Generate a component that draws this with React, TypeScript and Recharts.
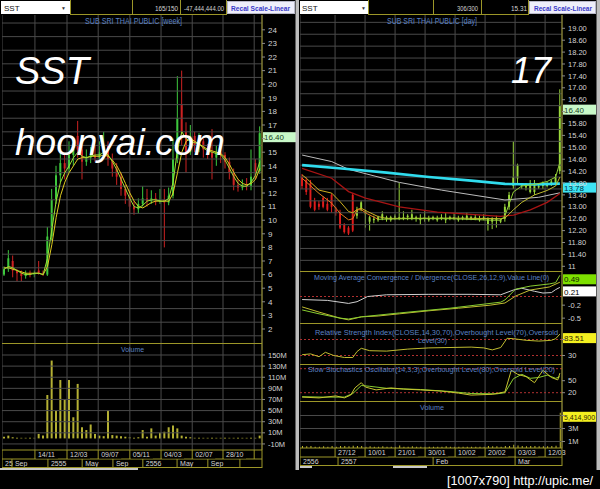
import React from "react";
import {
  ComposedChart,
  Bar,
  Line,
  XAxis,
  YAxis,
  ReferenceLine,
} from "recharts";

const FONT = '"Liberation Sans", Arial, sans-serif';
const OLIVE = "#9c9628";
const GRID = "#4a4a4a";
const TITLE_BLUE = "#5b82c4";
const AXIS_TEXT = "#d4d4d4";
const M0 = { top: 0, right: 0, bottom: 0, left: 0 };

// ---------- weekly (left) ----------
const wkOpen = [6.0, 6.4, 7.0, 6.3, 6.1, 5.9, 6.1, 6.0, 6.3, 6.1, 6.0, 8.8, 11.5, 13.3, 14.2, 13.8, 14.8, 16.2, 15.2, 14.3, 14.6, 14.8, 14.6, 15.0, 15.5, 14.5, 13.8, 13.2, 12.3, 11.8, 11.0, 10.8, 11.2, 11.6, 11.4, 11.6, 11.4, 11.5, 11.3, 11.8, 14.5, 18.5, 16.5, 15.0, 16.2, 15.5, 15.8, 15.2, 15.0, 14.6, 15.0, 14.8, 14.3, 13.5, 12.6, 12.4, 12.6, 12.5, 14.2, 13.6];
const wkClose = [6.4, 7.2, 6.3, 6.1, 5.9, 6.1, 6.0, 6.1, 6.1, 6.0, 8.8, 11.5, 13.3, 14.2, 13.8, 14.8, 15.2, 15.2, 14.3, 14.6, 14.8, 14.6, 15.0, 15.5, 14.5, 13.8, 13.2, 12.3, 11.8, 11.0, 10.8, 11.2, 11.6, 11.4, 11.6, 11.4, 11.5, 11.3, 11.8, 14.5, 17.5, 16.5, 15.0, 16.2, 15.5, 15.8, 15.2, 15.0, 14.6, 15.0, 14.8, 14.3, 13.5, 12.6, 12.4, 12.6, 12.5, 13.2, 13.6, 16.4];
const wkHigh = [6.6, 7.8, 7.4, 6.4, 6.3, 6.3, 6.3, 6.3, 7.0, 6.3, 9.5, 12.3, 14.0, 15.3, 14.8, 15.8, 16.0, 17.3, 15.6, 15.2, 15.4, 15.5, 15.8, 16.5, 15.8, 14.9, 14.2, 13.5, 12.6, 12.2, 11.4, 11.6, 12.5, 12.3, 12.2, 12.0, 12.3, 12.3, 12.4, 16.0, 20.6, 21.0, 17.2, 17.0, 16.5, 16.4, 16.0, 15.6, 16.7, 15.5, 15.4, 15.0, 14.6, 13.8, 13.0, 13.0, 13.1, 15.2, 14.5, 16.9];
const wkLow = [5.9, 6.2, 5.8, 5.5, 5.5, 5.7, 5.8, 5.8, 6.0, 5.9, 5.9, 8.5, 11.2, 12.8, 13.0, 13.5, 14.0, 14.6, 13.0, 14.0, 14.2, 14.3, 14.3, 14.5, 14.0, 13.2, 12.6, 11.8, 11.2, 10.5, 10.4, 10.5, 11.0, 11.0, 11.2, 11.1, 11.2, 8.0, 11.1, 11.6, 14.2, 15.5, 13.5, 14.8, 15.0, 15.0, 14.6, 14.5, 13.0, 14.0, 14.2, 13.8, 13.0, 12.2, 12.1, 12.2, 12.2, 12.2, 13.0, 13.4];
const wkMaSlow = [6.5, 6.5, 6.4, 6.3, 6.2, 6.1, 6.1, 6.1, 6.1, 6.0, 6.6, 8.2, 10.2, 11.8, 12.8, 13.5, 14.0, 14.5, 14.6, 14.6, 14.7, 14.7, 14.7, 14.8, 14.7, 14.4, 14.0, 13.4, 12.7, 12.0, 11.4, 11.0, 10.9, 11.1, 11.3, 11.4, 11.4, 11.4, 11.4, 12.0, 13.5, 15.0, 15.8, 16.0, 15.8, 15.6, 15.4, 15.2, 15.1, 15.0, 14.9, 14.6, 14.1, 13.5, 13.0, 12.7, 12.6, 12.7, 13.0, 13.8];
const wkMaFast = [6.4, 6.6, 6.5, 6.3, 6.1, 6.0, 6.0, 6.1, 6.1, 6.0, 7.2, 9.3, 11.4, 12.8, 13.5, 14.0, 14.6, 15.0, 14.7, 14.6, 14.7, 14.8, 14.8, 15.0, 14.8, 14.3, 13.7, 13.0, 12.3, 11.6, 11.0, 10.9, 11.1, 11.4, 11.5, 11.5, 11.4, 11.4, 11.6, 12.8, 15.2, 16.5, 16.0, 15.8, 15.7, 15.6, 15.3, 15.1, 15.0, 14.9, 14.8, 14.4, 13.8, 13.2, 12.7, 12.5, 12.5, 12.8, 13.3, 14.3];
const wkVol = [3, 5, 2, 1, 1, 1, 1, 1, 8, 5, 78, 140, 50, 105, 70, 105, 38, 98, 20, 15, 25, 8, 5, 4, 50, 6, 5, 4, 3, 2, 1, 2, 15, 3, 18, 5, 10, 12, 20, 23, 18, 5, 3, 2, 1, 1, 1, 1, 1, 1, 1, 1, 1, 1, 1, 1, 1, 1, 1, 5];

const WK_DOMAIN = [-0.5, 59.5];
const wkPriceDomain = [0.97, 25.09];
const wkPriceTicks = [2, 3, 4, 5, 6, 7, 8, 9, 10, 11, 12, 13, 14, 15, 16, 17, 18, 19, 20, 21, 22, 23, 24];
const wkGridTicks = [1.5, 2.5, 3.5, 4.5, 5.5, 6.5, 7.5, 8.5, 9.5, 10.5, 11.5, 12.5, 13.5, 14.5, 15.5, 16.5, 17.5, 18.5, 19.5, 20.5, 21.5, 22.5, 23.5, 24.5];
const wkVolDomain = [-20.9, 171.6];
const wkVolTicks = [-10, 10, 30, 50, 70, 90, 110, 130, 150];
const wkDateTicks = [-0.5, 7.1, 14.5, 21.7, 29, 36.2, 43.4, 50.5, 57.7, 59.5];
const wkDateLabels = ["", "14/11", "12/03", "09/07", "05/11", "04/03", "02/07", "28/10", "", ""];
const wkMonthTicks = [-0.5, 1.8, 10.1, 18, 25.1, 32, 39.9, 47, 54.4, 59.5];
const wkMonthLabels = ["2554", "Sep", "2555", "May", "Sep", "2556", "May", "Sep", "", ""];

// ---------- daily (right) ----------
const dyOpen = [14.0, 13.9, 13.8, 13.2, 13.1, 13.3, 13.1, 13.4, 12.9, 12.8, 12.4, 12.3, 13.4, 12.7, 12.9, 12.75, 12.5, 12.55, 12.55, 12.6, 12.6, 12.55, 12.6, 12.6, 12.6, 12.65, 12.6, 12.6, 12.55, 12.6, 12.55, 12.6, 12.55, 12.6, 12.55, 12.6, 12.6, 12.55, 12.6, 12.6, 12.6, 12.6, 12.55, 12.6, 12.4, 12.5, 12.55, 12.5, 12.6, 13.0, 13.7, 13.95, 13.7, 13.65, 13.5, 13.5, 13.65, 13.7, 13.7, 13.75, 13.8, 14.2];
const dyClose = [13.7, 13.5, 13.0, 12.9, 13.0, 13.0, 12.9, 13.0, 12.8, 12.3, 12.15, 12.1, 12.2, 12.9, 13.15, 12.85, 12.65, 12.6, 12.65, 12.75, 12.65, 12.65, 12.7, 12.65, 12.65, 12.7, 12.75, 12.65, 12.6, 12.65, 12.6, 12.65, 12.6, 12.65, 12.6, 12.65, 12.65, 12.6, 12.65, 12.7, 12.65, 12.65, 12.6, 12.65, 12.6, 12.6, 12.6, 12.55, 13.0, 13.4, 14.0, 14.4, 13.75, 13.7, 13.8, 13.8, 13.7, 13.8, 13.75, 13.85, 14.0, 16.4];
const dyHigh = [14.1, 14.0, 13.9, 13.3, 13.2, 13.35, 13.3, 13.45, 13.0, 12.9, 12.45, 12.35, 13.45, 13.0, 13.2, 12.9, 12.7, 12.7, 12.7, 12.85, 12.7, 12.7, 12.75, 13.8, 12.85, 12.75, 12.9, 12.7, 12.75, 12.85, 12.7, 12.7, 12.7, 12.75, 12.8, 12.7, 12.8, 12.7, 12.7, 12.8, 12.7, 12.75, 12.7, 12.75, 12.65, 12.65, 12.7, 12.6, 13.1, 13.5, 15.2, 14.45, 13.8, 13.8, 13.9, 13.9, 13.8, 13.85, 13.85, 13.9, 14.1, 16.95];
const dyLow = [13.6, 13.4, 12.95, 12.85, 12.9, 12.95, 12.85, 12.8, 12.7, 12.25, 12.1, 12.05, 12.15, 12.6, 12.85, 12.3, 12.2, 12.45, 12.5, 12.55, 12.5, 12.5, 12.55, 12.55, 12.55, 12.55, 12.55, 12.5, 12.4, 12.5, 12.5, 12.55, 12.5, 12.55, 12.45, 12.55, 12.55, 12.5, 12.55, 12.55, 12.55, 12.55, 12.5, 12.55, 12.2, 12.25, 12.3, 12.45, 12.5, 12.9, 13.6, 13.8, 13.6, 13.55, 13.45, 13.4, 13.6, 13.6, 13.65, 13.7, 13.75, 14.1];
const dyVol = [0.3, 0.25, 0.3, 0.2, 0.2, 0.25, 0.2, 0.3, 0.2, 0.3, 0.3, 0.25, 0.35, 0.3, 0.3, 0.2, 0.25, 0.2, 0.2, 0.25, 0.2, 0.2, 0.2, 0.4, 0.2, 0.2, 0.25, 0.2, 0.2, 0.2, 0.2, 0.2, 0.2, 0.2, 0.25, 0.2, 0.2, 0.2, 0.2, 0.2, 0.2, 0.2, 0.2, 0.2, 0.3, 0.25, 0.25, 0.2, 0.3, 0.3, 0.5, 0.4, 0.3, 0.25, 0.3, 0.3, 0.25, 0.25, 0.25, 0.3, 0.35, 5.41];

// moving averages on the daily panel, [bar, price]
const dyMaCyan = [[0, 14.4], [10, 14.28], [20, 14.15], [30, 14.0], [40, 13.88], [48, 13.77], [55, 13.75], [61, 13.78]];
const dyMaWhite = [[0, 14.74], [7, 14.52], [11, 14.26], [23, 13.82], [33, 13.56], [48, 13.23], [56, 13.32], [61, 13.47]];
const dyMaRed = [[0, 14.29], [7, 13.96], [11, 13.51], [15, 13.29], [23, 13.0], [32, 12.82], [47, 12.68], [50, 12.72], [54, 12.9], [58, 13.15], [61, 13.45]];
const dyFastA = [[0, 13.96], [4, 13.45], [7, 13.12], [9, 12.78], [11, 12.56], [12, 12.6], [13, 12.9], [14, 12.9], [15.5, 12.76], [18, 12.58]];
const dyFastB = [[18, 12.58], [25, 12.6], [35, 12.6], [45, 12.55], [47, 12.55], [48, 12.7], [49, 13.1], [50, 13.5], [52, 13.7], [55, 13.75], [58, 13.85], [60, 14.0], [61, 14.5]];
const dySlowA = [[0, 14.07], [1, 13.96], [4, 13.56], [7, 13.46], [9, 13.17], [11, 12.84], [12, 12.8], [13, 12.91], [14, 12.95], [15.5, 12.84], [18, 12.67]];
const dySlowB = [[18, 12.67], [20, 12.61], [35, 12.62], [47, 12.6], [48, 12.62], [50, 12.9], [52, 13.15], [55, 13.4], [58, 13.55], [60, 13.7], [61, 14.0]];

const macdWhite = [[0, -0.07], [6, -0.09], [11, -0.16], [13, -0.12], [15.5, 0.0], [20, 0.04], [30, 0.05], [40, 0.05], [47, 0.04], [50, 0.15], [52, 0.19], [55, 0.12], [57, 0.08], [59, 0.09], [60, 0.16], [61, 0.21]];
const macdYellow = [[0, -0.24], [4, -0.36], [9, -0.5], [11, -0.54], [14, -0.47], [18, -0.45], [23, -0.4], [30, -0.33], [37, -0.27], [44.5, -0.2], [48, -0.15], [50.5, 0.01], [54, 0.15], [58.5, 0.22], [61, 0.33]];
const macdGreen = [[0, -0.31], [4, -0.4], [9, -0.5], [11, -0.52], [14, -0.47], [23, -0.38], [35, -0.27], [47, -0.13], [48, -0.08], [50.5, 0.17], [54, 0.24], [58.5, 0.29], [60, 0.32], [61, 0.49]];
const rsiLine = [[0, 32], [2, 34], [4, 27], [5.5, 38], [7.5, 30], [10, 25], [12, 25], [13, 40], [14, 48], [16, 42], [20, 41], [25, 46], [30, 49], [35, 50], [40, 51], [43, 49], [45, 44], [47, 50], [48.5, 73], [50, 72], [53, 68], [56, 66], [59, 68], [60, 72], [61, 83.5]];
const stochK = [[0, 9], [4, 7], [8, 12], [10, 7], [11.5, 14], [12.5, 32], [14, 45], [15, 34], [17.5, 27], [21, 32], [24, 29], [28, 27], [33, 24], [37, 19], [40, 14], [45, 16], [48, 22], [49.5, 76], [51, 66], [53, 60], [55, 45], [57, 76], [59, 58], [60.5, 52], [61, 69]];
const stochD = [[0, 10], [5, 9], [10, 9], [12, 18], [14, 38], [16, 36], [20, 31], [28, 28], [35, 23], [40, 18], [46, 17], [48, 20], [50, 55], [52, 66], [54, 56], [56, 58], [58, 64], [60, 56], [61, 60]];

const DY_DOMAIN = [-0.5, 61.5];
const dyPriceDomain = [10.842, 19.447];
const dyPriceTicks = [11, 11.4, 11.8, 12.2, 12.6, 13, 13.4, 13.8, 14.2, 14.6, 15, 15.4, 15.8, 16.2, 16.6, 17, 17.4, 17.8, 18.2, 18.6, 19];
const dyGridTicks = [11.2, 11.6, 12, 12.4, 12.8, 13.2, 13.6, 14, 14.4, 14.8, 15.2, 15.6, 16, 16.4, 16.8, 17.2, 17.6, 18, 18.4, 18.8, 19.2];
const macdDomain = [-0.612, 0.589];
const macdTicks = [-0.5, -0.2];
const rsiDomain = [8.75, 111.25];
const rsiTicks = [30, 70];
const stochDomain = [-0.75, 91.75];
const stochTicks = [20, 50];
const dyVolDomain = [0, 7.23];
const dyVolTicks = [1, 3, 5];
const dyDateTicks = [-0.5, 7.8, 14.9, 22, 29.1, 36.2, 43.3, 50.4, 57.5, 61.5];
const dyDateLabels = ["", "27/12", "10/01", "21/01", "30/01", "10/02", "20/02", "03/03", "12/03", ""];
const dyMonthTicks = [-0.5, 8.5, 31, 50.4, 61.5];
const dyMonthLabels = ["2556", "2557", "Feb", "Mar", ""];

const weekRows = wkClose.map((close, i) => ({
  i,
  open: wkOpen[i],
  close,
  high: wkHigh[i],
  low: wkLow[i],
  range: [wkLow[i], wkHigh[i]],
  maSlow: wkMaSlow[i],
  maFast: wkMaFast[i],
  vol: wkVol[i],
}));

const dayRows = dyClose.map((close, i) => ({
  i,
  open: dyOpen[i],
  close,
  high: dyHigh[i],
  low: dyLow[i],
  range: [dyLow[i], dyHigh[i]],
  vol: dyVol[i],
}));

const pts = (a: number[][]) => a.map(([i, v]) => ({ i, v }));

function candleShape(upColor: string, downColor: string) {
  return (props: any) => {
    const { x, y, width, height, payload } = props;
    if (x == null || y == null || !payload) return <g />;
    const top = Math.min(y, y + height);
    const h = Math.abs(height);
    const span = payload.high - payload.low;
    const ppu = span > 0 ? h / span : 0;
    const yO = top + (payload.high - payload.open) * ppu;
    const yC = top + (payload.high - payload.close) * ppu;
    const col = payload.close >= payload.open ? upColor : downColor;
    const cx = x + width / 2;
    return (
      <g>
        <line x1={cx} x2={cx} y1={top} y2={top + h} stroke={col} strokeWidth={1} />
        <rect x={x} y={Math.min(yO, yC)} width={width} height={Math.max(1, Math.abs(yC - yO))} fill={col} />
      </g>
    );
  };
}
const wkCandle = candleShape("#3ec83e", "#cc2222");
const dyCandle = candleShape("#9ad83c", "#e01c1c");

// coloured value box drawn in the axis gutter
function tag(text: string, bg: string, fg: string, fs = 8) {
  return (props: any) => {
    const vb = props.viewBox;
    if (!vb) return null;
    const x = vb.x + vb.width + 1;
    return (
      <g>
        <rect x={x} y={vb.y - 1} width={33} height={10} fill={bg} />
        <text x={x + 1} y={vb.y + 7.2} fontSize={fs} fill={fg} fontFamily={FONT}>
          {text}
        </text>
      </g>
    );
  };
}

function dateTick(ticks: number[], labels: string[], h: number) {
  return (props: any) => {
    const { x, y, payload } = props;
    const k = ticks.indexOf(payload.value);
    const label = k >= 0 ? labels[k] : "";
    return (
      <g>
        {label ? <rect x={x + 1} y={y + 1} width={22} height={h - 1.5} fill="#000" /> : null}
        <line x1={x} x2={x} y1={y} y2={y + h} stroke={OLIVE} />
        {label ? (
          <text x={x + 3} y={y + h - 2} fontSize={7} fill={AXIS_TEXT} fontFamily={FONT}>
            {label}
          </text>
        ) : null}
      </g>
    );
  };
}

// grid drawn as thin reference lines at the axis tick values
const gridLines = (xTicks: number[], yTicks: number[], xId: string | number = 0) => [
  ...xTicks.map((t) => <ReferenceLine key={`gx${t}`} x={t} xAxisId={xId} stroke={GRID} strokeWidth={1} />),
  ...yTicks.map((t) => <ReferenceLine key={`gy${t}`} y={t} xAxisId={xId} stroke={GRID} strokeWidth={1} />),
];

const hiddenX = (domain: number[], ticks: number[]) => (
  <XAxis type="number" dataKey="i" domain={domain} ticks={ticks} interval={0} hide allowDataOverflow />
);

const valueAxis = (domain: number[], ticks: number[], fs: number, fmt?: (v: number) => string) => (
  <YAxis
    orientation="right"
    width={34}
    type="number"
    domain={domain}
    ticks={ticks}
    interval={0}
    allowDataOverflow
    tick={{ fill: AXIS_TEXT, fontSize: fs, fontFamily: FONT }}
    tickSize={3}
    tickMargin={3}
    tickLine={{ stroke: "#8a8a8a" }}
    axisLine={{ stroke: OLIVE }}
    tickFormatter={fmt}
  />
);

const dateAxes = (domain: number[], dTicks: number[], dLabels: string[], mTicks: number[], mLabels: string[]) => [
  <XAxis
    key="d"
    xAxisId="d"
    type="number"
    dataKey="i"
    domain={domain}
    ticks={dTicks}
    interval={0}
    allowDataOverflow
    height={9}
    tickSize={0}
    tickMargin={0}
    tickLine={false}
    axisLine={{ stroke: OLIVE }}
    tick={dateTick(dTicks, dLabels, 9)}
  />,
  <XAxis
    key="m"
    xAxisId="m"
    type="number"
    dataKey="i"
    domain={domain}
    ticks={mTicks}
    interval={0}
    allowDataOverflow
    height={9}
    tickSize={0}
    tickMargin={0}
    tickLine={false}
    axisLine={{ stroke: OLIVE }}
    tick={dateTick(mTicks, mLabels, 9)}
  />,
];

const line = (data: number[][], color: string, w = 1) => (
  <Line data={pts(data)} dataKey="v" stroke={color} strokeWidth={w} dot={false} activeDot={false} isAnimationActive={false} type="linear" />
);

// labels that the value boxes cover in the reference are left blank
const fmtWkPrice = (v: number) => (v === 16 ? "" : String(v));
const fmtDyPrice = (v: number) => (v === 16.2 ? "" : v === 11 ? "11" : v.toFixed(2));
const fmtRsi = (v: number) => (v === 70 ? "" : String(v));
const fmtDyVol = (v: number) => (v === 5 ? "" : `${v}M`);

const at = (left: number, top: number, child: React.ReactNode) => (
  <div style={{ position: "absolute", left, top }}>{child}</div>
);

function Overlay() {
  const t = { fontFamily: FONT };
  const fit = (n: number) => ({ textLength: n, lengthAdjust: "spacingAndGlyphs" as const });
  return (
    <svg width={600} height={489} style={{ position: "absolute", left: 0, top: 0, pointerEvents: "none" }}>
      {/* left toolbar */}
      <rect x={1} y={1} width={69} height={13} fill="#fff" />
      <text x={4} y={10.5} fontSize={8} fill="#111" {...t}>SST</text>
      <text x={61} y={9.5} fontSize={5} fill="#333" {...t}>▼</text>
      {[70, 132, 180, 226].map((x) => (
        <line key={x} x1={x + 0.5} x2={x + 0.5} y1={0} y2={15} stroke={OLIVE} />
      ))}
      <line x1={70} x2={227} y1={14.5} y2={14.5} stroke={OLIVE} />
      <text x={155} y={10.5} fontSize={7.5} fill={AXIS_TEXT} {...fit(23)} {...t}>165/150</text>
      <text x={184} y={10.5} fontSize={7.5} fill={AXIS_TEXT} {...fit(40)} {...t}>-47,444,444.00</text>
      <rect x={227.5} y={1.5} width={67} height={12} fill="#eeeefa" stroke="#b8b8c8" />
      <text x={231} y={10.5} fontSize={7.5} fontWeight="bold" fill="#3838c8" {...fit(59)} {...t}>Recal Scale-Linear</text>

      {/* right toolbar */}
      <rect x={300} y={1} width={68} height={13} fill="#fff" />
      <text x={302} y={10.5} fontSize={8} fill="#111" {...t}>SST</text>
      <text x={361} y={9.5} fontSize={5} fill="#333" {...t}>▼</text>
      {[368, 433, 481, 528].map((x) => (
        <line key={x} x1={x + 0.5} x2={x + 0.5} y1={0} y2={15} stroke={OLIVE} />
      ))}
      <line x1={368} x2={529} y1={14.5} y2={14.5} stroke={OLIVE} />
      <text x={457} y={10.5} fontSize={7.5} fill={AXIS_TEXT} {...fit(21)} {...t}>306/300</text>
      <text x={511} y={10.5} fontSize={7.5} fill={AXIS_TEXT} {...fit(16)} {...t}>15.31</text>
      <rect x={529.5} y={1.5} width={66} height={12} fill="#eeeefa" stroke="#b8b8c8" />
      <text x={534} y={10.5} fontSize={7.5} fontWeight="bold" fill="#3838c8" {...fit(58)} {...t}>Recal Scale-Linear</text>

      {/* scrollbars */}
      <rect x={295.5} y={0} width={3.5} height={470} fill="#bdbdbd" />
      <rect x={596.5} y={0} width={3.5} height={470} fill="#bdbdbd" />
      <rect x={0} y={468} width={138} height={2} fill="#c8c8c8" />
      <rect x={300} y={466} width={12} height={2} fill="#c8c8c8" />
      <rect x={393} y={466} width={34} height={2} fill="#c8c8c8" />

      {/* panel separators */}
      <line x1={2} x2={262} y1={343.5} y2={343.5} stroke={OLIVE} />
      <line x1={2} x2={262} y1={467.5} y2={467.5} stroke={OLIVE} />
      {[271, 323, 364, 401].map((y) => (
        <line key={y} x1={300} x2={562} y1={y + 0.5} y2={y + 0.5} stroke={OLIVE} />
      ))}
      <line x1={300} x2={562} y1={465.5} y2={465.5} stroke={OLIVE} />

      {/* panel titles */}
      <text x={85} y={24} fontSize={8.5} fill={TITLE_BLUE} {...fit(97)} {...t}>SUB SRI THAI PUBLIC [week]</text>
      <text x={387} y={24} fontSize={8.5} fill={TITLE_BLUE} {...fit(90)} {...t}>SUB SRI THAI PUBLIC [day]</text>
      <text x={121} y={352} fontSize={8} fill={TITLE_BLUE} {...fit(23)} {...t}>Volume</text>
      <text x={314} y={280} fontSize={8} fill={TITLE_BLUE} {...fit(235)} {...t}>Moving Average Convergence / Divergence(CLOSE,26,12,9),Value Line(0)</text>
      <text x={315} y={334.5} fontSize={8} fill={TITLE_BLUE} {...fit(243)} {...t}>Relative Strength Index(CLOSE,14,30,70),Overbought Level(70),Oversold</text>
      <text x={418} y={342.5} fontSize={8} fill={TITLE_BLUE} {...fit(29)} {...t}>Level(30)</text>
      <text x={308} y={372} fontSize={8} fill={TITLE_BLUE} {...fit(247)} {...t}>Slow Stochastics Oscillator(14,3,3),Overbought Level(80),Oversold Level(20)</text>
      <text x={420} y={410} fontSize={8} fill={TITLE_BLUE} {...fit(24)} {...t}>Volume</text>

      {/* big overlay captions */}
      <text x={15} y={84} fontSize={38} fontStyle="italic" fill="#fff" {...t}>SST</text>
      <text x={15} y={155} fontSize={37} fontStyle="italic" fill="#fff" {...t}>hoonyai.com</text>
      <text x={511} y={83} fontSize={36} fontStyle="italic" fill="#fff" {...t}>17</text>

      {/* watermark */}
      <text x={447} y={485} fontSize={13} fill="#fff" {...fit(146)} {...t}>[1007x790] http://upic.me/</text>
    </svg>
  );
}

export default function App() {
  return (
    <div style={{ position: "absolute", left: 0, top: 0, width: 600, height: 489, background: "#000", overflow: "hidden", fontFamily: FONT }}>
      {/* weekly price */}
      {at(2, 15,
        <ComposedChart width={294} height={328} data={weekRows} margin={M0}>
          {hiddenX(WK_DOMAIN, wkDateTicks)}
          {valueAxis(wkPriceDomain, wkPriceTicks, 8, fmtWkPrice)}
          {gridLines(wkDateTicks, wkGridTicks)}
          <Bar dataKey="range" shape={wkCandle} barSize={2} isAnimationActive={false} />
          <Line dataKey="maSlow" stroke="#e0cc20" strokeWidth={1} dot={false} activeDot={false} isAnimationActive={false} />
          <Line dataKey="maFast" stroke="#9ce034" strokeWidth={1} dot={false} activeDot={false} isAnimationActive={false} />
          <ReferenceLine y={16.4} stroke="none" ifOverflow="visible" label={tag("16.40", "#c8f8c8", "#204020")} />
        </ComposedChart>
      )}

      {/* weekly volume */}
      {at(2, 343,
        <ComposedChart width={294} height={125} data={weekRows} margin={M0}>
          {dateAxes(WK_DOMAIN, wkDateTicks, wkDateLabels, wkMonthTicks, wkMonthLabels)}
          {valueAxis(wkVolDomain, wkVolTicks, 7.5, (v: number) => `${v}M`)}
          {gridLines(wkDateTicks, wkVolTicks, "d")}
          <Bar xAxisId="d" dataKey="vol" fill="#b4b034" barSize={2} isAnimationActive={false} />
        </ComposedChart>
      )}

      {/* daily price */}
      {at(300, 15,
        <ComposedChart width={296} height={256} data={dayRows} margin={M0}>
          {hiddenX(DY_DOMAIN, dyDateTicks)}
          {valueAxis(dyPriceDomain, dyPriceTicks, 7.5, fmtDyPrice)}
          {gridLines(dyDateTicks, dyGridTicks)}
          {line(dyMaWhite, "#bcbcbc", 1)}
          {line(dyMaRed, "#a81414", 1.3)}
          {line(dyMaCyan, "#30dcee", 2.6)}
          <Bar dataKey="range" shape={dyCandle} barSize={3} isAnimationActive={false} />
          {line(dySlowA, "#d0b020", 1)}
          {line(dyFastA, "#e07a20", 1)}
          {line(dySlowB, "#c0bc2c", 1)}
          {line(dyFastB, "#94d038", 1)}
          <ReferenceLine y={16.4} stroke="none" ifOverflow="visible" label={tag("16.40", "#c8f8c8", "#204020")} />
          <ReferenceLine y={13.78} stroke="none" ifOverflow="visible" label={tag("13.78", "#3ee4f4", "#003040")} />
        </ComposedChart>
      )}

      {/* MACD */}
      {at(300, 271,
        <ComposedChart width={296} height={52} data={dayRows} margin={M0}>
          {hiddenX(DY_DOMAIN, dyDateTicks)}
          {valueAxis(macdDomain, macdTicks, 7.5)}
          {gridLines(dyDateTicks, [])}
          <ReferenceLine y={0} stroke="#b03030" strokeDasharray="2 2" />
          {line(macdWhite, "#d0d0d0", 1)}
          {line(macdYellow, "#c0bc30", 1)}
          {line(macdGreen, "#88cc30", 1)}
          <ReferenceLine y={0.49} stroke="none" ifOverflow="visible" label={tag("0.49", "#7ee000", "#102000")} />
          <ReferenceLine y={0.21} stroke="none" ifOverflow="visible" label={tag("0.21", "#ffffff", "#000000")} />
        </ComposedChart>
      )}

      {/* RSI */}
      {at(300, 323,
        <ComposedChart width={296} height={41} data={dayRows} margin={M0}>
          {hiddenX(DY_DOMAIN, dyDateTicks)}
          {valueAxis(rsiDomain, rsiTicks, 7.5, fmtRsi)}
          {gridLines(dyDateTicks, [])}
          <ReferenceLine y={70} stroke="#b03030" strokeDasharray="2 2" />
          <ReferenceLine y={30} stroke="#b03030" strokeDasharray="2 2" />
          {line(rsiLine, "#c0bc30", 1)}
          <ReferenceLine y={83.51} stroke="none" ifOverflow="visible" label={tag("83.51", "#f4f020", "#302800")} />
        </ComposedChart>
      )}

      {/* Slow stochastics */}
      {at(300, 364,
        <ComposedChart width={296} height={37} data={dayRows} margin={M0}>
          {hiddenX(DY_DOMAIN, dyDateTicks)}
          {valueAxis(stochDomain, stochTicks, 7.5)}
          {gridLines(dyDateTicks, [])}
          <ReferenceLine y={80} stroke="#b03030" strokeDasharray="2 2" />
          <ReferenceLine y={20} stroke="#b03030" strokeDasharray="2 2" />
          {line(stochD, "#88cc30", 1)}
          {line(stochK, "#c8c430", 1)}
        </ComposedChart>
      )}

      {/* daily volume */}
      {at(300, 401,
        <ComposedChart width={296} height={65} data={dayRows} margin={M0}>
          {dateAxes(DY_DOMAIN, dyDateTicks, dyDateLabels, dyMonthTicks, dyMonthLabels)}
          {valueAxis(dyVolDomain, dyVolTicks, 7.5, fmtDyVol)}
          {gridLines(dyDateTicks, dyVolTicks, "d")}
          <Bar xAxisId="d" dataKey="vol" fill="#c8c030" barSize={1} isAnimationActive={false} />
          <ReferenceLine xAxisId="d" y={5.4149} stroke="none" ifOverflow="visible" label={tag("5,414,900", "#f4f020", "#302800", 7)} />
        </ComposedChart>
      )}

      <Overlay />
    </div>
  );
}
